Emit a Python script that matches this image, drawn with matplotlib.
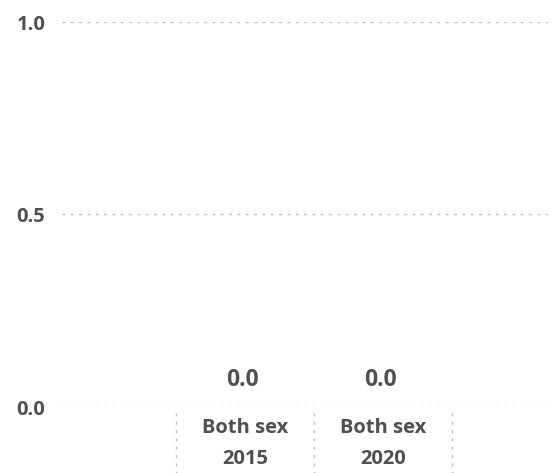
import matplotlib.pyplot as plt
import numpy as np

plt.rcParams["font.family"] = ["Open Sans", "DejaVu Sans"]

# data
categories = ["Both sex\n2015", "Both sex\n2020"]
values = [0.0, 0.0]
y_ticks = [0.0, 0.5, 1.0]

text_color = "#505050"
grid_color = "#bdbdbd"

fig = plt.figure(figsize=(5.53, 4.73), dpi=100)
ax = fig.add_axes([62 / 553, 66 / 473, 486 / 553, 385 / 473])

x = np.arange(len(categories))
ax.bar(x, values, width=0.6, color="#4e79a7")

# value labels above bars
for xi, v in zip(x, values):
    ax.annotate(f"{v:.1f}", (xi, v), xytext=(-2, 15), textcoords="offset points",
                ha="center", va="baseline", fontsize=16.5, fontweight="bold", color=text_color)

ax.set_ylim(0, 1)
ax.set_xlim(-1.326, 2.196)
ax.set_yticks(y_ticks)
ax.set_yticklabels([f"{t:.1f}" for t in y_ticks])
ax.set_xticks(x)
ax.set_xticklabels(categories, linespacing=1.72)
ax.tick_params(axis="y", length=0, pad=12, labelsize=14.5, labelcolor=text_color)
ax.tick_params(axis="x", length=0, pad=8, labelsize=14.5, labelcolor=text_color)
for lab in ax.get_xticklabels() + ax.get_yticklabels():
    lab.set_fontweight("bold")

for t in y_ticks:
    ax.axhline(t, color=grid_color, lw=1, ls=(0, (2, 4)), zorder=0)

# category separators under the axis
trans = ax.get_xaxis_transform()
for b in np.arange(len(categories) + 1) - 0.5:
    ax.plot([b, b], [-0.016, -0.175], transform=trans, color=grid_color, lw=1,
            ls=(0, (2, 4)), clip_on=False)

for s in ax.spines.values():
    s.set_visible(False)

fig.savefig("out.png", dpi=100)
